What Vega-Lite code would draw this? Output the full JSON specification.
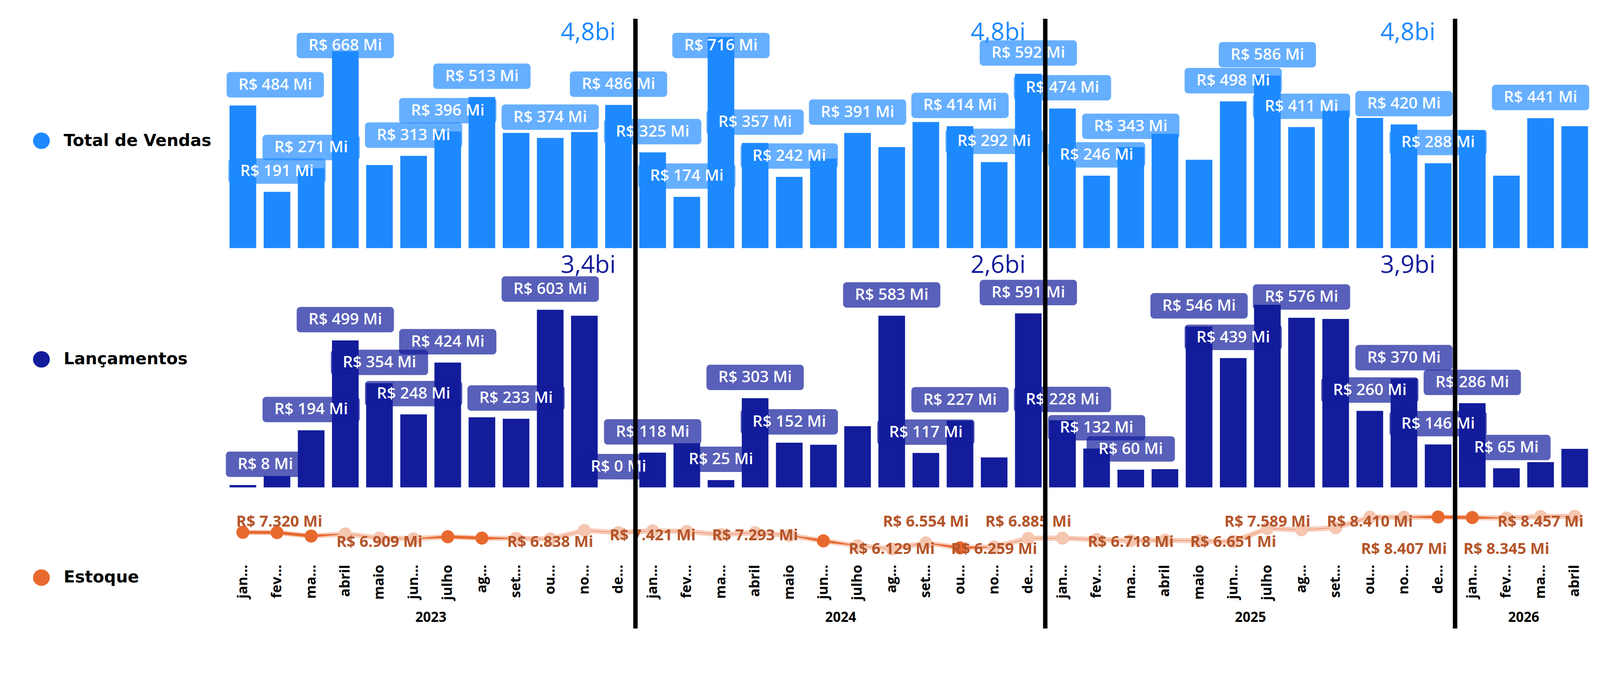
{
  "$schema": "https://vega.github.io/schema/vega-lite/v6.json",
  "background": "#ffffff",
  "autosize": {"type": "fit", "contains": "padding"},
  "width": 4096,
  "height": 1648,
  "padding": {"left": 84, "top": 48, "right": 21, "bottom": 38},
  "config": {"view": {"stroke": null}, "font": "Open Sans"},
  "datasets": {
    "vendas": [
      {"mes": "2023-01", "valor": 484, "rotulo": "R$ 484 Mi"},
      {"mes": "2023-02", "valor": 191, "rotulo": "R$ 191 Mi"},
      {"mes": "2023-03", "valor": 271, "rotulo": "R$ 271 Mi"},
      {"mes": "2023-04", "valor": 668, "rotulo": "R$ 668 Mi"},
      {"mes": "2023-05", "valor": 282},
      {"mes": "2023-06", "valor": 313, "rotulo": "R$ 313 Mi"},
      {"mes": "2023-07", "valor": 396, "rotulo": "R$ 396 Mi"},
      {"mes": "2023-08", "valor": 513, "rotulo": "R$ 513 Mi"},
      {"mes": "2023-09", "valor": 391},
      {"mes": "2023-10", "valor": 374, "rotulo": "R$ 374 Mi"},
      {"mes": "2023-11", "valor": 394},
      {"mes": "2023-12", "valor": 486, "rotulo": "R$ 486 Mi"},
      {"mes": "2024-01", "valor": 325, "rotulo": "R$ 325 Mi"},
      {"mes": "2024-02", "valor": 174, "rotulo": "R$ 174 Mi"},
      {"mes": "2024-03", "valor": 716, "rotulo": "R$ 716 Mi"},
      {"mes": "2024-04", "valor": 357, "rotulo": "R$ 357 Mi"},
      {"mes": "2024-05", "valor": 242, "rotulo": "R$ 242 Mi"},
      {"mes": "2024-06", "valor": 304},
      {"mes": "2024-07", "valor": 391, "rotulo": "R$ 391 Mi"},
      {"mes": "2024-08", "valor": 343},
      {"mes": "2024-09", "valor": 428},
      {"mes": "2024-10", "valor": 414, "rotulo": "R$ 414 Mi"},
      {"mes": "2024-11", "valor": 292, "rotulo": "R$ 292 Mi"},
      {"mes": "2024-12", "valor": 592, "rotulo": "R$ 592 Mi"},
      {"mes": "2025-01", "valor": 474, "rotulo": "R$ 474 Mi"},
      {"mes": "2025-02", "valor": 246, "rotulo": "R$ 246 Mi"},
      {"mes": "2025-03", "valor": 343, "rotulo": "R$ 343 Mi"},
      {"mes": "2025-04", "valor": 388},
      {"mes": "2025-05", "valor": 300},
      {"mes": "2025-06", "valor": 498, "rotulo": "R$ 498 Mi"},
      {"mes": "2025-07", "valor": 586, "rotulo": "R$ 586 Mi"},
      {"mes": "2025-08", "valor": 411, "rotulo": "R$ 411 Mi"},
      {"mes": "2025-09", "valor": 467},
      {"mes": "2025-10", "valor": 442},
      {"mes": "2025-11", "valor": 420, "rotulo": "R$ 420 Mi"},
      {"mes": "2025-12", "valor": 288, "rotulo": "R$ 288 Mi"},
      {"mes": "2026-01", "valor": 400},
      {"mes": "2026-02", "valor": 246},
      {"mes": "2026-03", "valor": 441, "rotulo": "R$ 441 Mi"},
      {"mes": "2026-04", "valor": 414}
    ],
    "lancamentos": [
      {"mes": "2023-01", "valor": 8, "rotulo": "R$ 8 Mi"},
      {"mes": "2023-02", "valor": 39},
      {"mes": "2023-03", "valor": 194, "rotulo": "R$ 194 Mi"},
      {"mes": "2023-04", "valor": 499, "rotulo": "R$ 499 Mi"},
      {"mes": "2023-05", "valor": 354, "rotulo": "R$ 354 Mi"},
      {"mes": "2023-06", "valor": 248, "rotulo": "R$ 248 Mi"},
      {"mes": "2023-07", "valor": 424, "rotulo": "R$ 424 Mi"},
      {"mes": "2023-08", "valor": 238},
      {"mes": "2023-09", "valor": 233, "rotulo": "R$ 233 Mi"},
      {"mes": "2023-10", "valor": 603, "rotulo": "R$ 603 Mi"},
      {"mes": "2023-11", "valor": 583},
      {"mes": "2023-12", "valor": 0, "rotulo": "R$ 0 Mi"},
      {"mes": "2024-01", "valor": 118, "rotulo": "R$ 118 Mi"},
      {"mes": "2024-02", "valor": 150},
      {"mes": "2024-03", "valor": 25, "rotulo": "R$ 25 Mi"},
      {"mes": "2024-04", "valor": 303, "rotulo": "R$ 303 Mi"},
      {"mes": "2024-05", "valor": 152, "rotulo": "R$ 152 Mi"},
      {"mes": "2024-06", "valor": 145},
      {"mes": "2024-07", "valor": 208},
      {"mes": "2024-08", "valor": 583, "rotulo": "R$ 583 Mi"},
      {"mes": "2024-09", "valor": 117, "rotulo": "R$ 117 Mi"},
      {"mes": "2024-10", "valor": 227, "rotulo": "R$ 227 Mi"},
      {"mes": "2024-11", "valor": 102},
      {"mes": "2024-12", "valor": 591, "rotulo": "R$ 591 Mi"},
      {"mes": "2025-01", "valor": 228, "rotulo": "R$ 228 Mi"},
      {"mes": "2025-02", "valor": 132, "rotulo": "R$ 132 Mi"},
      {"mes": "2025-03", "valor": 60, "rotulo": "R$ 60 Mi"},
      {"mes": "2025-04", "valor": 62},
      {"mes": "2025-05", "valor": 546, "rotulo": "R$ 546 Mi"},
      {"mes": "2025-06", "valor": 439, "rotulo": "R$ 439 Mi"},
      {"mes": "2025-07", "valor": 620},
      {"mes": "2025-08", "valor": 576, "rotulo": "R$ 576 Mi"},
      {"mes": "2025-09", "valor": 572},
      {"mes": "2025-10", "valor": 260, "rotulo": "R$ 260 Mi"},
      {"mes": "2025-11", "valor": 370, "rotulo": "R$ 370 Mi"},
      {"mes": "2025-12", "valor": 146, "rotulo": "R$ 146 Mi"},
      {"mes": "2026-01", "valor": 286, "rotulo": "R$ 286 Mi"},
      {"mes": "2026-02", "valor": 65, "rotulo": "R$ 65 Mi"},
      {"mes": "2026-03", "valor": 86},
      {"mes": "2026-04", "valor": 131}
    ],
    "estoque": [
      {"mes": "2023-01", "valor": 7320, "rotulo": "R$ 7.320 Mi"},
      {"mes": "2023-02", "valor": 7300},
      {"mes": "2023-03", "valor": 7050},
      {"mes": "2023-04", "valor": 7200},
      {"mes": "2023-05", "valor": 6909, "rotulo": "R$ 6.909 Mi"},
      {"mes": "2023-06", "valor": 6850},
      {"mes": "2023-07", "valor": 7000},
      {"mes": "2023-08", "valor": 6900},
      {"mes": "2023-09", "valor": 6880},
      {"mes": "2023-10", "valor": 6838, "rotulo": "R$ 6.838 Mi"},
      {"mes": "2023-11", "valor": 7450},
      {"mes": "2023-12", "valor": 7300},
      {"mes": "2024-01", "valor": 7421, "rotulo": "R$ 7.421 Mi"},
      {"mes": "2024-02", "valor": 7380},
      {"mes": "2024-03", "valor": 7150},
      {"mes": "2024-04", "valor": 7293, "rotulo": "R$ 7.293 Mi"},
      {"mes": "2024-05", "valor": 7100},
      {"mes": "2024-06", "valor": 6700},
      {"mes": "2024-07", "valor": 6350},
      {"mes": "2024-08", "valor": 6129, "rotulo": "R$ 6.129 Mi"},
      {"mes": "2024-09", "valor": 6554, "rotulo": "R$ 6.554 Mi"},
      {"mes": "2024-10", "valor": 6200},
      {"mes": "2024-11", "valor": 6259, "rotulo": "R$ 6.259 Mi"},
      {"mes": "2024-12", "valor": 6885, "rotulo": "R$ 6.885 Mi"},
      {"mes": "2025-01", "valor": 6900},
      {"mes": "2025-02", "valor": 6800},
      {"mes": "2025-03", "valor": 6718, "rotulo": "R$ 6.718 Mi"},
      {"mes": "2025-04", "valor": 6750},
      {"mes": "2025-05", "valor": 6700},
      {"mes": "2025-06", "valor": 6651, "rotulo": "R$ 6.651 Mi"},
      {"mes": "2025-07", "valor": 7589, "rotulo": "R$ 7.589 Mi"},
      {"mes": "2025-08", "valor": 7500},
      {"mes": "2025-09", "valor": 7650},
      {"mes": "2025-10", "valor": 8410, "rotulo": "R$ 8.410 Mi"},
      {"mes": "2025-11", "valor": 8407, "rotulo": "R$ 8.407 Mi"},
      {"mes": "2025-12", "valor": 8420},
      {"mes": "2026-01", "valor": 8380},
      {"mes": "2026-02", "valor": 8345, "rotulo": "R$ 8.345 Mi"},
      {"mes": "2026-03", "valor": 8457, "rotulo": "R$ 8.457 Mi"},
      {"mes": "2026-04", "valor": 8470}
    ],
    "totais": [
      {"mes": "2023-12", "serie": "vendas", "texto": "4,8bi"},
      {"mes": "2024-12", "serie": "vendas", "texto": "4,8bi"},
      {"mes": "2025-12", "serie": "vendas", "texto": "4,8bi"},
      {"mes": "2023-12", "serie": "lancamentos", "texto": "3,4bi"},
      {"mes": "2024-12", "serie": "lancamentos", "texto": "2,6bi"},
      {"mes": "2025-12", "serie": "lancamentos", "texto": "3,9bi"}
    ]
  },
  "resolve": {"scale": {"x": "independent"}, "axis": {"x": "independent"}},
  "layer": [
    {
      "resolve": {"scale": {"y": "independent"}, "axis": {"y": "independent"}},
      "layer": [
        {
          "data": {"name": "vendas"},
          "mark": {"type": "bar", "color": "#1E89FF"},
          "encoding": {
            "x": {"field": "mes", "type": "ordinal", "scale": {"type": "band", "paddingInner": 0.22, "paddingOuter": 0.11}},
            "y": {"field": "valor", "type": "quantitative", "scale": {"domain": [0, 778.75], "range": [587.5, 0], "nice": false},
              "axis": {"orient": "left", "offset": 472, "values": [365], "title": null, "domain": false, "grid": false,
                "ticks": true, "tickSize": 1, "tickWidth": 42, "tickCap": "round", "tickColor": "#1E89FF",
                "labelExpr": "'Total de Vendas'", "labelAlign": "left", "labelBaseline": "middle", "labelPadding": -57.5, "labelLimit": 0,
                "labelFont": "DejaVu Sans", "labelFontWeight": "bold", "labelFontSize": 42.4, "labelColor": "#000000",
                "labelOverlap": false, "labelBound": false, "labelFlush": false}}
          }
        },
        {
          "data": {"name": "vendas"},
          "transform": [{"filter": "isValid(datum.rotulo) && datum.mes != '2023-01'"}],
          "mark": {"type": "bar", "width": 249, "color": "#1E89FF", "opacity": 0.68, "cornerRadius": 9.4, "yOffset": -85.8, "y2Offset": -20.7},
          "encoding": {
            "x": {"field": "mes", "type": "ordinal"},
            "y": {"field": "valor", "type": "quantitative", "scale": {"domain": [0, 617.5], "range": [587.5, 121.7], "clamp": true, "nice": false}, "axis": null},
            "y2": {"field": "valor"}
          }
        },
        {
          "data": {"name": "vendas"},
          "transform": [{"filter": "datum.mes == '2023-01'"}],
          "mark": {"type": "bar", "width": 249, "color": "#1E89FF", "opacity": 0.68, "cornerRadius": 9.4, "yOffset": -85.8, "y2Offset": -20.7, "xOffset": 83},
          "encoding": {
            "x": {"field": "mes", "type": "ordinal"},
            "y": {"field": "valor", "type": "quantitative", "scale": {"domain": [0, 617.5], "range": [587.5, 121.7], "clamp": true, "nice": false}, "axis": null},
            "y2": {"field": "valor"}
          }
        },
        {
          "data": {"name": "vendas"},
          "transform": [{"filter": "isValid(datum.rotulo) && datum.mes != '2023-01'"}],
          "mark": {"type": "text", "color": "#ffffff", "font": "Open Sans", "fontWeight": 600, "fontSize": 40.6, "baseline": "middle", "yOffset": -52.8},
          "encoding": {
            "x": {"field": "mes", "type": "ordinal", "bandPosition": 0.5},
            "y": {"field": "valor", "type": "quantitative", "scale": {"domain": [0, 617.5], "range": [587.5, 121.7], "clamp": true, "nice": false}, "axis": null},
            "text": {"field": "rotulo"}
          }
        },
        {
          "data": {"name": "vendas"},
          "transform": [{"filter": "datum.mes == '2023-01'"}],
          "mark": {"type": "text", "color": "#ffffff", "font": "Open Sans", "fontWeight": 600, "fontSize": 40.6, "baseline": "middle", "yOffset": -52.8, "xOffset": 83},
          "encoding": {
            "x": {"field": "mes", "type": "ordinal", "bandPosition": 0.5},
            "y": {"field": "valor", "type": "quantitative", "scale": {"domain": [0, 617.5], "range": [587.5, 121.7], "clamp": true, "nice": false}, "axis": null},
            "text": {"field": "rotulo"}
          }
        },
        {
          "data": {"name": "totais"},
          "transform": [{"filter": "datum.serie == 'vendas'"}],
          "mark": {"type": "text", "align": "right", "baseline": "alphabetic", "font": "Open Sans", "fontSize": 62.2, "color": "#1E89FF"},
          "encoding": {
            "x": {"field": "mes", "type": "ordinal", "bandPosition": 0.4},
            "y": {"datum": 706, "type": "quantitative", "scale": {"domain": [0, 778.75], "range": [587.5, 0], "nice": false}, "axis": null},
            "text": {"field": "texto"}
          }
        },
        {
          "data": {"name": "lancamentos"},
          "mark": {"type": "bar", "color": "#131C9B"},
          "encoding": {
            "x": {"field": "mes", "type": "ordinal"},
            "y": {"field": "valor", "type": "quantitative", "scale": {"domain": [0, 812.5], "range": [1200.6, 587.5], "nice": false},
              "axis": {"orient": "left", "offset": 472, "values": [436], "title": null, "domain": false, "grid": false,
                "ticks": true, "tickSize": 1, "tickWidth": 42, "tickCap": "round", "tickColor": "#131C9B",
                "labelExpr": "'Lançamentos'", "labelAlign": "left", "labelBaseline": "middle", "labelPadding": -57.5, "labelLimit": 0,
                "labelFont": "DejaVu Sans", "labelFontWeight": "bold", "labelFontSize": 42.4, "labelColor": "#000000",
                "labelOverlap": false, "labelBound": false, "labelFlush": false}}
          }
        },
        {
          "data": {"name": "lancamentos"},
          "transform": [{"filter": "isValid(datum.rotulo) && length(datum.rotulo) == 9"}],
          "mark": {"type": "bar", "width": 249, "color": "#131C9B", "opacity": 0.7, "cornerRadius": 9.4, "yOffset": -85.8, "y2Offset": -20.7},
          "encoding": {
            "x": {"field": "mes", "type": "ordinal"},
            "y": {"field": "valor", "type": "quantitative", "scale": {"domain": [0, 812.5], "range": [1200.6, 587.5], "nice": false}, "axis": null},
            "y2": {"field": "valor"}
          }
        },
        {
          "data": {"name": "lancamentos"},
          "transform": [{"filter": "isValid(datum.rotulo) && length(datum.rotulo) == 8"}],
          "mark": {"type": "bar", "width": 226, "color": "#131C9B", "opacity": 0.7, "cornerRadius": 9.4, "yOffset": -85.8, "y2Offset": -20.7},
          "encoding": {
            "x": {"field": "mes", "type": "ordinal"},
            "y": {"field": "valor", "type": "quantitative", "scale": {"domain": [0, 812.5], "range": [1200.6, 587.5], "nice": false}, "axis": null},
            "y2": {"field": "valor"}
          }
        },
        {
          "data": {"name": "lancamentos"},
          "transform": [{"filter": "isValid(datum.rotulo) && length(datum.rotulo) == 7 && datum.mes != '2023-01'"}],
          "mark": {"type": "bar", "width": 202, "color": "#131C9B", "opacity": 0.7, "cornerRadius": 9.4, "yOffset": -85.8, "y2Offset": -20.7},
          "encoding": {
            "x": {"field": "mes", "type": "ordinal"},
            "y": {"field": "valor", "type": "quantitative", "scale": {"domain": [0, 812.5], "range": [1200.6, 587.5], "nice": false}, "axis": null},
            "y2": {"field": "valor"}
          }
        },
        {
          "data": {"name": "lancamentos"},
          "transform": [{"filter": "datum.mes == '2023-01'"}],
          "mark": {"type": "bar", "width": 202, "color": "#131C9B", "opacity": 0.7, "cornerRadius": 9.4, "yOffset": -85.8, "y2Offset": -20.7, "xOffset": 57.5},
          "encoding": {
            "x": {"field": "mes", "type": "ordinal"},
            "y": {"field": "valor", "type": "quantitative", "scale": {"domain": [0, 812.5], "range": [1200.6, 587.5], "nice": false}, "axis": null},
            "y2": {"field": "valor"}
          }
        },
        {
          "data": {"name": "lancamentos"},
          "transform": [{"filter": "isValid(datum.rotulo) && datum.mes != '2023-01'"}],
          "mark": {"type": "text", "color": "#ffffff", "font": "Open Sans", "fontWeight": 600, "fontSize": 40.6, "baseline": "middle", "yOffset": -52.8},
          "encoding": {
            "x": {"field": "mes", "type": "ordinal", "bandPosition": 0.5},
            "y": {"field": "valor", "type": "quantitative", "scale": {"domain": [0, 812.5], "range": [1200.6, 587.5], "nice": false}, "axis": null},
            "text": {"field": "rotulo"}
          }
        },
        {
          "data": {"name": "lancamentos"},
          "transform": [{"filter": "datum.mes == '2023-01'"}],
          "mark": {"type": "text", "color": "#ffffff", "font": "Open Sans", "fontWeight": 600, "fontSize": 40.6, "baseline": "middle", "yOffset": -52.8, "xOffset": 57.5},
          "encoding": {
            "x": {"field": "mes", "type": "ordinal", "bandPosition": 0.5},
            "y": {"field": "valor", "type": "quantitative", "scale": {"domain": [0, 812.5], "range": [1200.6, 587.5], "nice": false}, "axis": null},
            "text": {"field": "rotulo"}
          }
        },
        {
          "data": {"name": "totais"},
          "transform": [{"filter": "datum.serie == 'lancamentos'"}],
          "mark": {"type": "text", "align": "right", "baseline": "alphabetic", "font": "Open Sans", "fontSize": 62.2, "color": "#131C9B"},
          "encoding": {
            "x": {"field": "mes", "type": "ordinal", "bandPosition": 0.4},
            "y": {"datum": 729, "type": "quantitative", "scale": {"domain": [0, 812.5], "range": [1200.6, 587.5], "nice": false}, "axis": null},
            "text": {"field": "texto"}
          }
        },
        {
          "data": {"name": "estoque"},
          "mark": {"type": "line", "color": "#F7CDBB", "strokeWidth": 13.2},
          "encoding": {
            "x": {"field": "mes", "type": "ordinal", "bandPosition": 0.5,
              "axis": {"orient": "bottom", "offset": -179, "title": null, "domain": false, "ticks": false, "grid": false,
                "labelAngle": -90, "labelAlign": "right", "labelBaseline": "middle", "labelPadding": 15,
                "labelFont": "Open Sans", "labelFontWeight": "bold", "labelFontSize": 35.8, "labelColor": "#000000",
                "labelOverlap": false, "labelBound": false, "labelLimit": 0,
                "labelExpr": "['jan...','fev...','ma...','abril','maio','jun...','julho','ag...','set...','ou...','no...','de...'][toNumber(slice(datum.value, 5, 7)) - 1]"}},
            "y": {"field": "valor", "type": "quantitative", "scale": {"domain": [390, 10550], "range": [1562, 1200.6], "nice": false, "zero": false},
              "axis": {"orient": "left", "offset": 472, "values": [4078], "title": null, "domain": false, "grid": false,
                "ticks": true, "tickSize": 1, "tickWidth": 42, "tickCap": "round", "tickColor": "#E8692E",
                "labelExpr": "'Estoque'", "labelAlign": "left", "labelBaseline": "middle", "labelPadding": -57.5, "labelLimit": 0,
                "labelFont": "DejaVu Sans", "labelFontWeight": "bold", "labelFontSize": 42.4, "labelColor": "#000000",
                "labelOverlap": false, "labelBound": false, "labelFlush": false}}
          }
        },
        {
          "data": {"name": "estoque"},
          "mark": {"type": "trail", "color": "#E8692E"},
          "encoding": {
            "x": {"field": "mes", "type": "ordinal", "bandPosition": 0.5},
            "y": {"field": "valor", "type": "quantitative", "scale": {"domain": [390, 10550], "range": [1562, 1200.6], "nice": false, "zero": false}, "axis": null},
            "size": {"condition": {"test": "indexof(['2023-01','2023-02','2023-03','2023-07','2023-08','2024-06','2024-10','2025-12','2026-01'], datum.mes) >= 0", "value": 7.5}, "value": 0}
          }
        },
        {
          "data": {"name": "estoque"},
          "mark": {"type": "point", "filled": true, "size": 1112, "color": "#F5C6B0", "opacity": 1},
          "encoding": {
            "x": {"field": "mes", "type": "ordinal", "bandPosition": 0.5},
            "y": {"field": "valor", "type": "quantitative", "scale": {"domain": [390, 10550], "range": [1562, 1200.6], "nice": false, "zero": false}, "axis": null}
          }
        },
        {
          "data": {"name": "estoque"},
          "transform": [{"filter": "indexof(['2023-01','2023-02','2023-03','2023-07','2023-08','2024-06','2024-10','2025-12','2026-01'], datum.mes) >= 0"}],
          "mark": {"type": "point", "filled": true, "size": 1112, "color": "#E8692E", "opacity": 1},
          "encoding": {
            "x": {"field": "mes", "type": "ordinal", "bandPosition": 0.5},
            "y": {"field": "valor", "type": "quantitative", "scale": {"domain": [390, 10550], "range": [1562, 1200.6], "nice": false, "zero": false}, "axis": null}
          }
        },
        {
          "data": {"name": "estoque"},
          "transform": [{"filter": "isValid(datum.rotulo) && indexof(['2024-09','2024-12','2025-07','2025-10','2026-03'], datum.mes) >= 0"}],
          "mark": {"type": "text", "color": "#B4552A", "font": "Open Sans", "fontWeight": "bold", "fontSize": 39.6, "baseline": "middle", "dy": -34.9},
          "encoding": {
            "x": {"field": "mes", "type": "ordinal", "bandPosition": 0.5},
            "y": {"datum": 7075, "type": "quantitative", "scale": {"domain": [390, 10550], "range": [1562, 1200.6], "nice": false, "zero": false}, "axis": null},
            "text": {"field": "rotulo"}
          }
        },
        {
          "data": {"name": "estoque"},
          "transform": [{"filter": "datum.mes == '2023-01'"}],
          "mark": {"type": "text", "color": "#B4552A", "font": "Open Sans", "fontWeight": "bold", "fontSize": 39.6, "baseline": "middle", "dy": -34.9, "xOffset": 93.4},
          "encoding": {
            "x": {"field": "mes", "type": "ordinal", "bandPosition": 0.5},
            "y": {"datum": 7075, "type": "quantitative", "scale": {"domain": [390, 10550], "range": [1562, 1200.6], "nice": false, "zero": false}, "axis": null},
            "text": {"field": "rotulo"}
          }
        },
        {
          "data": {"name": "estoque"},
          "transform": [{"filter": "isValid(datum.rotulo) && indexof(['2024-01','2024-04'], datum.mes) >= 0"}],
          "mark": {"type": "text", "color": "#B4552A", "font": "Open Sans", "fontWeight": "bold", "fontSize": 39.6, "baseline": "middle", "dy": 0},
          "encoding": {
            "x": {"field": "mes", "type": "ordinal", "bandPosition": 0.5},
            "y": {"datum": 7075, "type": "quantitative", "scale": {"domain": [390, 10550], "range": [1562, 1200.6], "nice": false, "zero": false}, "axis": null},
            "text": {"field": "rotulo"}
          }
        },
        {
          "data": {"name": "estoque"},
          "transform": [{"filter": "isValid(datum.rotulo) && indexof(['2023-05','2023-10','2025-03','2025-06'], datum.mes) >= 0"}],
          "mark": {"type": "text", "color": "#B4552A", "font": "Open Sans", "fontWeight": "bold", "fontSize": 39.6, "baseline": "middle", "dy": 17},
          "encoding": {
            "x": {"field": "mes", "type": "ordinal", "bandPosition": 0.5},
            "y": {"datum": 7075, "type": "quantitative", "scale": {"domain": [390, 10550], "range": [1562, 1200.6], "nice": false, "zero": false}, "axis": null},
            "text": {"field": "rotulo"}
          }
        },
        {
          "data": {"name": "estoque"},
          "transform": [{"filter": "isValid(datum.rotulo) && indexof(['2024-08','2024-11','2025-11','2026-02'], datum.mes) >= 0"}],
          "mark": {"type": "text", "color": "#B4552A", "font": "Open Sans", "fontWeight": "bold", "fontSize": 39.6, "baseline": "middle", "dy": 34.9},
          "encoding": {
            "x": {"field": "mes", "type": "ordinal", "bandPosition": 0.5},
            "y": {"datum": 7075, "type": "quantitative", "scale": {"domain": [390, 10550], "range": [1562, 1200.6], "nice": false, "zero": false}, "axis": null},
            "text": {"field": "rotulo"}
          }
        },
        {
          "data": {"name": "vendas"},
          "transform": [{"filter": "slice(datum.mes, 5, 7) == '12'"}],
          "mark": {"type": "bar", "color": "#000000", "width": 11.3, "xOffset": 43.4},
          "encoding": {
            "x": {"field": "mes", "type": "ordinal"}
          }
        }
      ]
    },
    {
      "data": {"name": "estoque"},
      "mark": {"type": "point", "opacity": 0},
      "encoding": {
        "x": {"datum": 0, "type": "quantitative", "scale": {"domain": [0, 40], "nice": false, "zero": false},
          "axis": {"orient": "bottom", "offset": -45.3, "title": null, "domain": false, "ticks": false, "grid": false,
            "values": [6, 18, 30, 38], "labelPadding": 0, "labelBaseline": "top",
            "labelExpr": "datum.value == 6 ? '2023' : datum.value == 18 ? '2024' : datum.value == 30 ? '2025' : '2026'",
            "labelFont": "Open Sans", "labelFontWeight": "bold", "labelFontSize": 34.9, "labelColor": "#000000",
            "labelFlush": false, "labelOverlap": false, "labelBound": false}}
      }
    }
  ]
}
